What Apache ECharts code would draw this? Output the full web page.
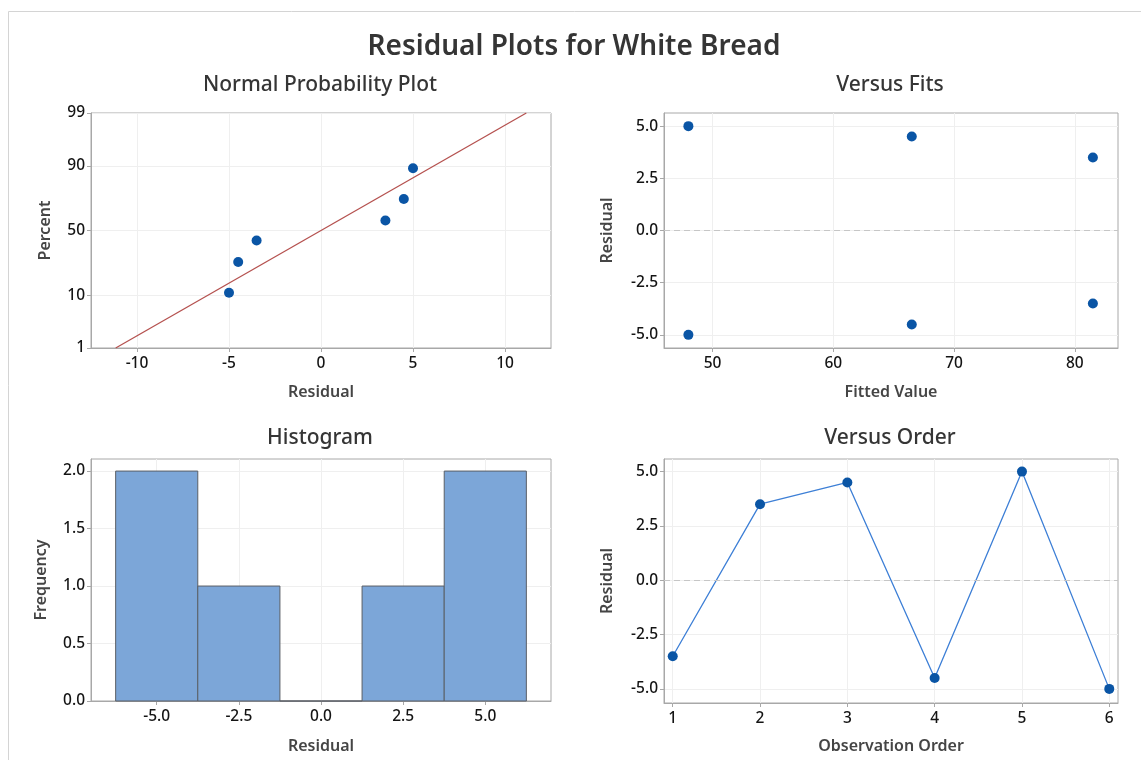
<!DOCTYPE html>
<html><head><meta charset="utf-8">
<script src="https://cdn.jsdelivr.net/npm/echarts@6/dist/echarts.min.js"></script>
<style>html,body{margin:0;padding:0;background:#fff}#c{width:1141px;height:760px}</style>
</head><body><div id="c"></div>
<script>
// ---------------- data ----------------
const mainTitle = 'Residual Plots for White Bread';
const panelTitles = ['Normal Probability Plot', 'Versus Fits', 'Histogram', 'Versus Order'];

const observationOrder = [1, 2, 3, 4, 5, 6];
const residuals = [-3.5, 3.5, 4.5, -4.5, 5.0, -5.0];
const fittedValues = [81.5, 81.5, 66.5, 66.5, 48.0, 48.0];

// normal probability plot (sorted residuals vs. median-rank percent)
const normalResiduals = [-5.0, -4.5, -3.5, 3.5, 4.5, 5.0];
const normalPercents = [10.9, 26.6, 42.2, 57.8, 73.4, 89.1];
const fitMean = 0;
const fitStdDev = 4.796;
const fitLinePercents = [1, 99];

// histogram
const binCenters = [-5.0, -2.5, 0.0, 2.5, 5.0];
const binWidth = 2.5;
const frequencies = [2, 1, 0, 1, 2];

// tick labels
const percentTicks = [1, 10, 50, 90, 99];
const npResidualTicks = [-10, -5, 0, 5, 10];
const fitTicks = [50, 60, 70, 80];
const residualTicks = [-5.0, -2.5, 0.0, 2.5, 5.0];
const histTicks = [-5.0, -2.5, 0.0, 2.5, 5.0];
const freqTicks = [0, 0.5, 1.0, 1.5, 2.0];
const orderTicks = [1, 2, 3, 4, 5, 6];

// ---------------- helpers ----------------
// inverse standard normal CDF (Acklam) – used as the probability-scale transform
function normInv(p) {
  const a = [-3.969683028665376e+01, 2.209460984245205e+02, -2.759285104469687e+02, 1.383577518672690e+02, -3.066479806614716e+01, 2.506628277459239e+00];
  const b = [-5.447609879822406e+01, 1.615858368580409e+02, -1.556989798598866e+02, 6.680131188771972e+01, -1.328068155288572e+01];
  const c = [-7.784894002430293e-03, -3.223964580411365e-01, -2.400758277161838e+00, -2.549732539343734e+00, 4.374664141464968e+00, 2.938163982698783e+00];
  const d = [7.784695709041462e-03, 3.224671290700398e-01, 2.445134137142996e+00, 3.754408661907416e+00];
  const pl = 0.02425, ph = 1 - pl;
  let q, r;
  if (p < pl) { q = Math.sqrt(-2 * Math.log(p)); return (((((c[0]*q+c[1])*q+c[2])*q+c[3])*q+c[4])*q+c[5]) / ((((d[0]*q+d[1])*q+d[2])*q+d[3])*q+1); }
  if (p <= ph) { q = p - 0.5; r = q*q; return (((((a[0]*r+a[1])*r+a[2])*r+a[3])*r+a[4])*r+a[5])*q / (((((b[0]*r+b[1])*r+b[2])*r+b[3])*r+b[4])*r+1); }
  q = Math.sqrt(-2 * Math.log(1 - p)); return -(((((c[0]*q+c[1])*q+c[2])*q+c[3])*q+c[4])*q+c[5]) / ((((d[0]*q+d[1])*q+d[2])*q+d[3])*q+1);
}
const z = pct => normInv(pct / 100);

const FONT = 'Noto Sans';
const AXIS_COLOR = '#a8a8a8';
const GRID_COLOR = '#efefef';

function makeAxis(gridIndex, dim, min, max, ticks, fmt, name, nameGap) {
  return {
    type: 'value', gridIndex, min, max,
    name, nameLocation: 'middle', nameGap,
    nameTextStyle: { fontFamily: FONT, fontSize: 16, fontWeight: 600, color: '#454545' },
    axisLine: { show: true, onZero: false, lineStyle: { color: AXIS_COLOR, width: 1 } },
    axisTick: { show: true, inside: false, length: 4, customValues: ticks, lineStyle: { color: AXIS_COLOR } },
    axisLabel: { customValues: ticks, formatter: fmt, fontFamily: FONT, fontSize: 15.5, fontWeight: 500, color: '#141414', margin: dim === 'x' ? 8 : 6, showMinLabel: true, showMaxLabel: true },
    splitLine: { show: true, lineStyle: { color: GRID_COLOR, width: 1 } }
  };
}
const f1 = v => Number(v).toFixed(1);
const fInt = v => String(Math.round(v));
const fPct = v => {
  let best = percentTicks[0], bd = Infinity;
  percentTicks.forEach(p => { const d = Math.abs(z(p) - v); if (d < bd) { bd = d; best = p; } });
  return String(best);
};

const grids = [
  { left: 91, top: 113, width: 460, height: 235 },
  { left: 664, top: 113, width: 454, height: 235 },
  { left: 91, top: 459, width: 460, height: 242 },
  { left: 664, top: 459, width: 454, height: 244 }
].map(g => Object.assign(g, { show: true, borderColor: AXIS_COLOR, borderWidth: 1, backgroundColor: 'transparent' }));

const zLo = z(percentTicks[0]), zHi = z(percentTicks[percentTicks.length - 1]);

const xAxes = [
  makeAxis(0, 'x', -12.5, 12.5, npResidualTicks, fInt, 'Residual', 36),
  makeAxis(1, 'x', 45.98, 83.58, fitTicks, fInt, 'Fitted Value', 36),
  makeAxis(2, 'x', -7.0, 7.0, histTicks, f1, 'Residual', 37),
  makeAxis(3, 'x', 0.9, 6.1, orderTicks, fInt, 'Observation Order', 35)
];
const yAxes = [
  makeAxis(0, 'y', zLo, zHi, percentTicks.map(z), fPct, 'Percent', 38),
  makeAxis(1, 'y', -5.63, 5.63, residualTicks, f1, 'Residual', 49),
  makeAxis(2, 'y', 0, 2.105, freqTicks, f1, 'Frequency', 42),
  makeAxis(3, 'y', -5.65, 5.58, residualTicks, f1, 'Residual', 49)
];

const DOT = '#0a55a5';
const zeroLine = {
  silent: true, symbol: ['none', 'none'], label: { show: false },
  lineStyle: { color: '#c6c6c6', type: [6, 4], width: 1.2 },
  data: [{ yAxis: 0 }], animation: false
};

const series = [
  // normal probability fit line
  {
    type: 'line', xAxisIndex: 0, yAxisIndex: 0, symbol: 'none',
    lineStyle: { color: '#b5514f', width: 1.3 },
    data: fitLinePercents.map(p => [fitMean + z(p) * fitStdDev, z(p)]), z: 3
  },
  {
    type: 'scatter', xAxisIndex: 0, yAxisIndex: 0, symbolSize: 10,
    itemStyle: { color: DOT, opacity: 1 },
    data: normalResiduals.map((r, i) => [r, z(normalPercents[i])]), z: 4
  },
  // versus fits
  {
    type: 'scatter', xAxisIndex: 1, yAxisIndex: 1, symbolSize: 10,
    itemStyle: { color: DOT, opacity: 1 },
    data: fittedValues.map((f, i) => [f, residuals[i]]),
    markLine: zeroLine
  },
  // histogram
  {
    type: 'custom', xAxisIndex: 2, yAxisIndex: 2,
    data: binCenters.map((c, i) => [c - binWidth / 2, c + binWidth / 2, frequencies[i]]),
    encode: { x: [0, 1], y: 2 },
    renderItem: function (params, api) {
      const p0 = api.coord([api.value(0), api.value(2)]);
      const p1 = api.coord([api.value(1), 0]);
      return {
        type: 'rect',
        shape: { x: p0[0], y: p0[1], width: p1[0] - p0[0], height: p1[1] - p0[1] },
        style: { fill: '#7ca6d8', stroke: '#5a5f66', lineWidth: 1 }
      };
    }
  },
  // versus order
  {
    type: 'line', xAxisIndex: 3, yAxisIndex: 3,
    symbol: 'circle', symbolSize: 10, showAllSymbol: true,
    lineStyle: { color: '#3d7fd6', width: 1.3 },
    itemStyle: { color: DOT },
    data: observationOrder.map((o, i) => [o, residuals[i]]),
    markLine: zeroLine
  }
];

const titleStyle = (text, x, y, size, color, weight) => ({
  type: 'text', x, y, silent: true,
  style: { text, fontFamily: FONT, fontSize: size, fontWeight: weight, fill: color, align: 'center', verticalAlign: 'middle', textAlign: 'center', textVerticalAlign: 'middle' }
});

const graphic = [
  { type: 'line', silent: true, shape: { x1: 8.5, y1: 11.5, x2: 8.5, y2: 760 }, style: { stroke: '#d4d4d4', lineWidth: 1 } },
  { type: 'line', silent: true, shape: { x1: 8.5, y1: 11.5, x2: 1141, y2: 11.5 }, style: { stroke: '#d4d4d4', lineWidth: 1 } },
  titleStyle(mainTitle, 574, 47, 28, '#353535', 600),
  titleStyle(panelTitles[0], 320, 85, 21, '#353535', 500),
  titleStyle(panelTitles[1], 890, 85, 21, '#353535', 500),
  titleStyle(panelTitles[2], 320, 438, 21, '#353535', 500),
  titleStyle(panelTitles[3], 890, 438, 21, '#353535', 500)
];

const chart = echarts.init(document.getElementById('c'), null, { renderer: 'canvas' });
chart.setOption({
  backgroundColor: '#ffffff',
  animation: false,
  grid: grids,
  xAxis: xAxes,
  yAxis: yAxes,
  series,
  graphic
});
</script>
</body></html>
